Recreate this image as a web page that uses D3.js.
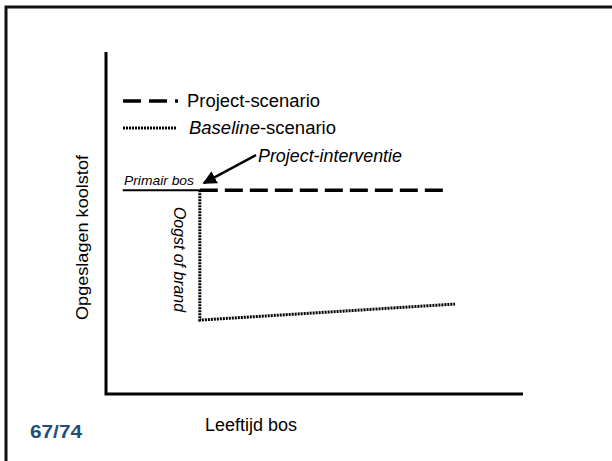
<!DOCTYPE html>
<html>
<head>
<meta charset="utf-8">
<script src="https://cdn.jsdelivr.net/npm/d3@7"></script>
<style>
  body { margin: 0; background: #fff; }
  text { font-family: "Liberation Sans", Arial, sans-serif; fill: #000; }
</style>
</head>
<body>
<div id="chart"></div>
<script>
// schematic values (age of forest vs stored carbon, arbitrary units)
const primaryAge = [4, 22.5];        // primair bos, up to the intervention
const primaryCarbon = [59.6, 59.6];
const projectAge = [22.5, 82];       // project-scenario keeps the forest
const projectCarbon = [59.6, 59.6];
const baselineAge = [22.5, 22.5, 83.7];   // baseline: harvest/fire, then slow regrowth
const baselineCarbon = [59.6, 21.6, 26.3];
const interventionAge = 22.5;

const width = 612, height = 461;
const svg = d3.select("#chart")
  .append("svg")
  .attr("width", width)
  .attr("height", height);

// slide frame (top and left edge only)
svg.append("path")
  .attr("d", "M6,461 L6,7 L612,7")
  .attr("fill", "none")
  .attr("stroke", "#111")
  .attr("stroke-width", 3);

// scales
const x = d3.scaleLinear().domain([0, 100]).range([106, 523]);
const y = d3.scaleLinear().domain([0, 100]).range([394, 52]);

// axes as plain lines, no ticks
svg.append("path")
  .attr("d", `M${x(0)},${y(100)} L${x(0)},${y(0)} L${x(100)},${y(0)}`)
  .attr("fill", "none")
  .attr("stroke", "#000")
  .attr("stroke-width", 3);

const line = d3.line().x(d => x(d[0])).y(d => y(d[1]));

// primair bos
svg.append("path")
  .attr("d", line(d3.zip(primaryAge, primaryCarbon)))
  .attr("fill", "none")
  .attr("stroke", "#000")
  .attr("stroke-width", 2);

// project-scenario
svg.append("path")
  .attr("d", line(d3.zip(projectAge, projectCarbon)))
  .attr("fill", "none")
  .attr("stroke", "#000")
  .attr("stroke-width", 3.5)
  .attr("stroke-dasharray", "18,7");

// baseline-scenario
svg.append("path")
  .attr("d", line(d3.zip(baselineAge, baselineCarbon)))
  .attr("fill", "none")
  .attr("stroke", "#000")
  .attr("stroke-width", 3)
  .attr("stroke-dasharray", "2,1");

// helper: text fitted to the width measured in the slide
function label(g, txt, len) {
  return g.append("text")
    .attr("textLength", len)
    .attr("lengthAdjust", "spacingAndGlyphs")
    .text(txt);
}

// legend
const legend = svg.append("g");
legend.append("line")
  .attr("x1", 123).attr("x2", 178).attr("y1", 101).attr("y2", 101)
  .attr("stroke", "#000").attr("stroke-width", 3.5)
  .attr("stroke-dasharray", "18,8");
label(legend, "Project-scenario", 133)
  .attr("x", 187).attr("y", 107)
  .style("font-size", "17.5px");
legend.append("line")
  .attr("x1", 123).attr("x2", 176).attr("y1", 128).attr("y2", 128)
  .attr("stroke", "#000").attr("stroke-width", 3)
  .attr("stroke-dasharray", "2,1");
const bl = legend.append("text")
  .attr("x", 189).attr("y", 134)
  .attr("textLength", 147)
  .attr("lengthAdjust", "spacingAndGlyphs")
  .style("font-size", "17.5px");
bl.append("tspan").style("font-style", "italic").text("Baseline");
bl.append("tspan").text("-scenario");

// annotations
svg.append("defs").append("marker")
  .attr("id", "arrow")
  .attr("viewBox", "0 0 10 10")
  .attr("refX", 9).attr("refY", 5)
  .attr("markerWidth", 5.5).attr("markerHeight", 5.5)
  .attr("orient", "auto")
  .append("path")
  .attr("d", "M0,0 L10,5 L0,10 z")
  .attr("fill", "#000");

svg.append("line")
  .attr("x1", 256).attr("y1", 155)
  .attr("x2", x(interventionAge) + 4).attr("y2", y(primaryCarbon[0]) - 7)
  .attr("stroke", "#000").attr("stroke-width", 2.5)
  .attr("marker-end", "url(#arrow)");

label(svg, "Project-interventie", 144)
  .attr("x", 258).attr("y", 162)
  .style("font-size", "17.5px").style("font-style", "italic");

label(svg, "Primair bos", 70)
  .attr("x", 124).attr("y", 185)
  .style("font-size", "13px").style("font-style", "italic");

label(svg, "Oogst of brand", 105)
  .attr("transform", "translate(174,259.5) rotate(90)")
  .attr("x", -52.5)
  .style("font-size", "16px").style("font-style", "italic");

// axis titles
label(svg, "Opgeslagen koolstof", 165)
  .attr("transform", "translate(88,237.5) rotate(-90)")
  .attr("x", -82.5)
  .style("font-size", "17px");

label(svg, "Leeftijd bos", 92)
  .attr("x", 205).attr("y", 431)
  .style("font-size", "17.5px");

// slide number
label(svg, "67/74", 52)
  .attr("x", 30).attr("y", 438)
  .style("font-size", "18px").style("font-weight", "bold")
  .style("fill", "#1f4e79");
</script>
</body>
</html>
